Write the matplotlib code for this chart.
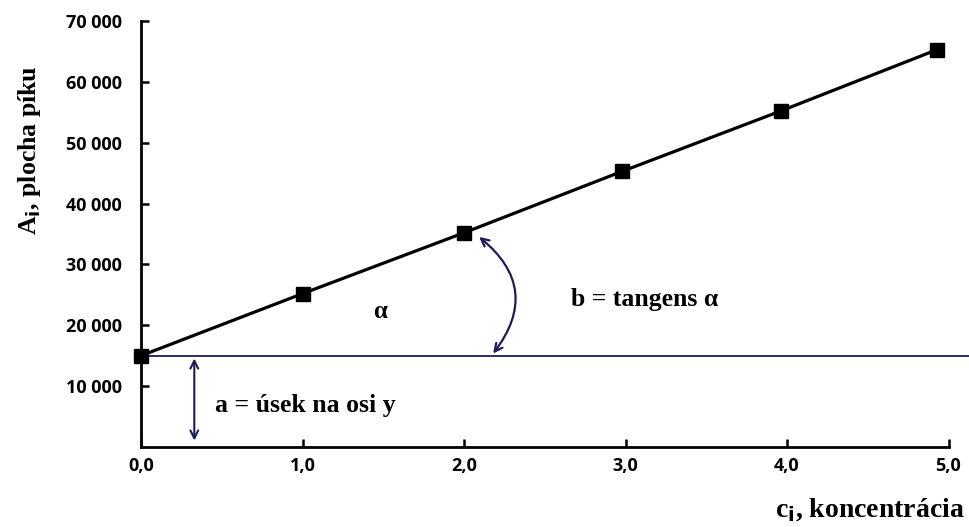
import matplotlib
matplotlib.use("Agg")
import matplotlib.pyplot as plt
from matplotlib.ticker import FixedLocator

# Data
conc = [0.0, 1.0, 2.0, 2.98, 3.96, 4.93]
area = [15000, 25200, 35200, 45300, 55200, 65300]
intercept = 15000
x_ticks = [0, 1, 2, 3, 4, 5]
x_tick_labels = ["0,0", "1,0", "2,0", "3,0", "4,0", "5,0"]
y_ticks = [10000, 20000, 30000, 40000, 50000, 60000, 70000]
y_tick_labels = ["10 000", "20 000", "30 000", "40 000", "50 000", "60 000", "70 000"]

W, H = 969, 527
fig = plt.figure(figsize=(W / 100, H / 100), dpi=100)
ax_left, ax_right, ax_top, ax_bot = 141, 969, 21, 447
ax = fig.add_axes([ax_left / W, (H - ax_bot) / H, (ax_right - ax_left) / W, (ax_bot - ax_top) / H])
px_per_unit = 161.5
ax.set_xlim(0, (ax_right - ax_left) / px_per_unit)
ax.set_ylim(0, 70000)

navy = "#1c1c5a"

# regression line with square markers
ax.plot(conc, area, color="black", lw=2.3, marker="s", ms=10, mfc="black", mec="black",
        clip_on=False, zorder=4)

# horizontal intercept line
ax.axhline(intercept, color=navy, lw=1.3, zorder=2)

# vertical double arrow for intercept
ax.annotate("", xy=(0.33, 600), xytext=(0.33, intercept),
            arrowprops=dict(arrowstyle="<->", color=navy, lw=1.5, mutation_scale=14))

# curved arrow for the angle
ax.annotate("", xy=(2.08, 34800), xytext=(2.17, intercept),
            arrowprops=dict(arrowstyle="<->", color=navy, lw=1.6, mutation_scale=14,
                            connectionstyle="arc3,rad=0.5"))

serif = dict(family="Liberation Serif", fontweight="bold")
ax.text(1.48, 22300, "α", fontsize=18, ha="center", va="center", **serif)
ax.text(3.12, 24300, "b = tangens α", fontsize=18.5, ha="center", va="center", **serif)
ax.text(0.46, 6900, "a = úsek na osi y", fontsize=18.5, ha="left", va="center", **serif)

# spines
for s in ["top", "right"]:
    ax.spines[s].set_visible(False)
ax.spines["left"].set_linewidth(2)
ax.spines["bottom"].set_linewidth(2)
ax.spines["bottom"].set_bounds(0, 5)

ax.xaxis.set_major_locator(FixedLocator(x_ticks))
ax.set_xticklabels(x_tick_labels)
ax.yaxis.set_major_locator(FixedLocator(y_ticks))
ax.set_yticklabels(y_tick_labels)
ax.tick_params(direction="in", length=6, width=1.8, labelsize=13)
ax.tick_params(axis="y", pad=14)
ax.tick_params(axis="x", pad=7)
for lab in ax.get_xticklabels() + ax.get_yticklabels():
    lab.set_fontfamily("Open Sans")
    lab.set_fontweight("bold")

fig.text(30 / W, 1 - 150 / H, "A$_\\mathbf{i}$, plocha píku", rotation=90, ha="center", va="center",
         fontsize=18.5, **serif)
fig.text(965 / W, 1 - 510 / H, "c$_\\mathbf{i}$, koncentrácia", ha="right", va="center",
         fontsize=20, **serif)

fig.savefig("out.png", dpi=100, facecolor="white")
